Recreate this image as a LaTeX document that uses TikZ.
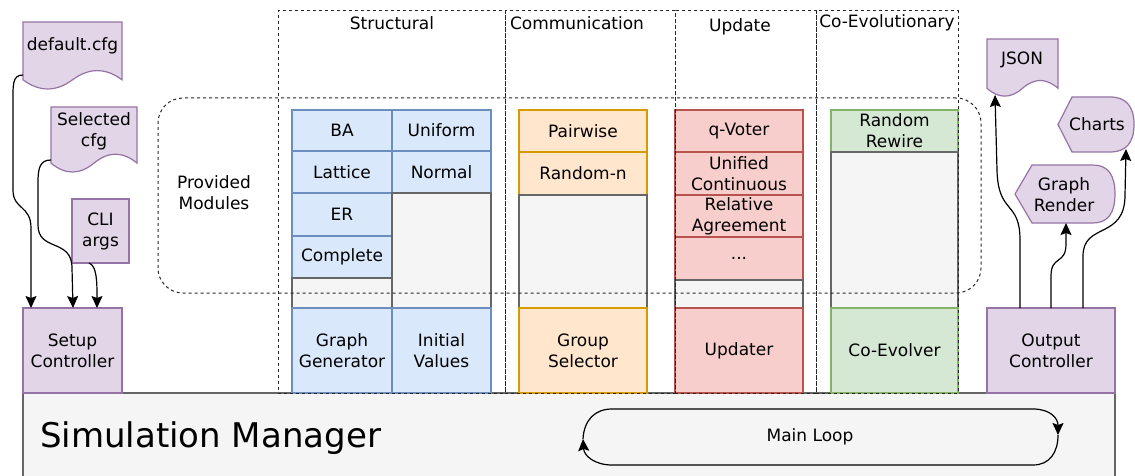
\documentclass[tikz,border=0pt]{standalone}
\usepackage{fontspec}
\setmainfont{DejaVu Sans}
\usetikzlibrary{arrows.meta,calc}
\definecolor{pfill}{HTML}{E1D5E7}\definecolor{pdraw}{HTML}{9673A6}
\definecolor{bfill}{HTML}{DAE8FC}\definecolor{bdraw}{HTML}{6C8EBF}
\definecolor{ofill}{HTML}{FFE6CC}\definecolor{odraw}{HTML}{D79B00}
\definecolor{rfill}{HTML}{F8CECC}\definecolor{rdraw}{HTML}{B85450}
\definecolor{gfill}{HTML}{D5E8D4}\definecolor{gdraw}{HTML}{82B366}
\definecolor{efill}{HTML}{F5F5F5}\definecolor{edraw}{HTML}{666666}
\newcommand\docshape[3]{% anchor, w, h
  \draw[pshape, shift={(#1)}] (0,0) -- (#2,0) -- (#2,{0.85*#3})
    .. controls ({0.8333*#2},{0.67*#3}) and ({0.6667*#2},{0.67*#3}) .. ({0.5*#2},{0.85*#3})
    .. controls ({0.3333*#2},{1.03*#3}) and ({0.1667*#2},{1.03*#3}) .. (0,{0.85*#3}) -- cycle;}
\newcommand\dispshape[5]{% anchor, w, h, dx left, rx right
  \draw[pshape, shift={(#1)}] (0,{#3/2}) -- (#4,0) -- ({#2-#5},0)
    .. controls ({#2-#5/3},0) and (#2,{#3/6}) .. (#2,{#3/2})
    .. controls (#2,{5*#3/6}) and ({#2-#5/3},#3) .. ({#2-#5},#3) -- (#4,#3) -- cycle;}
\begin{document}
\begin{tikzpicture}[x=1pt,y=-1pt,
  every node/.style={font=\fontsize{17}{21}\selectfont, text=black, align=center, inner sep=0pt, outer sep=0pt},
  cell/.style={draw, line width=1.2pt, anchor=north west},
  bcell/.style={cell, fill=bfill, draw=bdraw},
  ocell/.style={cell, fill=ofill, draw=odraw},
  rcell/.style={cell, fill=rfill, draw=rdraw},
  gcell/.style={cell, fill=gfill, draw=gdraw},
  ecell/.style={cell, fill=efill, draw=edraw},
  pcell/.style={cell, fill=pfill, draw=pdraw},
  pshape/.style={fill=pfill, draw=pdraw, line width=1.2pt},
  hidden/.style={anchor=north west},
  frame/.style={draw=black!85, dash pattern=on 3pt off 3pt, line width=1pt, anchor=north west},
  arr/.style={-{Stealth[length=12pt,width=11pt,inset=2pt]}, line width=1.2pt},
]
\useasboundingbox (0,0) rectangle (1135,476);

% Simulation manager
\node[anchor=north west, draw=edraw, fill=efill, line width=1.2pt, minimum width=1092pt, minimum height=100pt] (sim) at (23,393) {};
\node[anchor=base west, font=\fontsize{34}{40}\selectfont] (simt) at (40,447) {Simulation Manager};

% Structural
\node[bcell, minimum width=100pt, minimum height=41pt] (ba) at (292,110) {BA};
\node[bcell, minimum width=100pt, minimum height=42pt] (lat) at (292,151) {Lattice};
\node[bcell, minimum width=100pt, minimum height=43pt] (er) at (292,193) {ER};
\node[bcell, minimum width=100pt, minimum height=42pt] (cmp) at (292,236) {Complete};
\node[ecell, minimum width=100pt, minimum height=30pt] (sg1) at (292,278) {};
\node[bcell, minimum width=100pt, minimum height=85pt] (gg) at (292,308) {Graph\\Generator};
\node[bcell, minimum width=99pt, minimum height=41pt] (uni) at (392,110) {Uniform};
\node[bcell, minimum width=99pt, minimum height=42pt] (nor) at (392,151) {Normal};
\node[ecell, minimum width=99pt, minimum height=115pt] (sg2) at (392,193) {};
\node[bcell, minimum width=99pt, minimum height=85pt] (iv) at (392,308) {Initial\\Values};

% Communication
\node[ocell, minimum width=128pt, minimum height=42pt] (pw) at (519,110) {Pairwise};
\node[ocell, minimum width=128pt, minimum height=43pt] (rn) at (519,152) {Random-n};
\node[ecell, minimum width=128pt, minimum height=113pt] (cg) at (519,195) {};
\node[ocell, minimum width=128pt, minimum height=85pt] (gs) at (519,308) {Group\\Selector};

% Update
\node[rcell, minimum width=128pt, minimum height=42pt] (qv) at (675,110) {q-Voter};
\node[rcell, minimum width=128pt, minimum height=43pt] (uc) at (675,152) {Unified\\Continuous};
\node[rcell, minimum width=128pt, minimum height=42pt] (ra) at (675,195) {Relative\\Agreement};
\node[rcell, minimum width=128pt, minimum height=43pt] (dots) at (675,237) {...};
\node[ecell, minimum width=128pt, minimum height=28pt] (ug) at (675,280) {};
\node[rcell, minimum width=128pt, minimum height=85pt] (upd) at (675,308) {Updater};

% Co-evolutionary
\node[gcell, minimum width=127pt, minimum height=42pt] (rr) at (831,110) {Random\\Rewire};
\node[ecell, minimum width=127pt, minimum height=156pt] (eg) at (831,152) {};
\node[gcell, minimum width=127pt, minimum height=85pt] (ce) at (831,308) {Co-Evolver};

% Controllers
\node[pcell, minimum width=99pt, minimum height=85pt] (setup) at (23,308) {Setup\\Controller};
\node[pcell, minimum width=128pt, minimum height=85pt] (out) at (987,308) {Output\\Controller};
\node[pcell, minimum width=57pt, minimum height=64pt] (cli) at (72,199) {CLI\\args};

% Documents
\node[hidden, minimum width=99pt, minimum height=68pt] (dflt) at (23,22) {};
\docshape{dflt.north west}{99}{68}
\node (dfltt) at (72.5,46) {default.cfg};
\node[hidden, minimum width=86pt, minimum height=66pt] (sel) at (51,107) {};
\docshape{sel.north west}{86}{66}
\node (selt) at (94,131) {Selected\\cfg};
\node[hidden, minimum width=71pt, minimum height=58pt] (json) at (987,39) {};
\docshape{json.north west}{71}{58}
\node (jsont) at (1022,60) {JSON};

% Display shapes
\node[hidden, minimum width=76pt, minimum height=55pt] (charts) at (1058,97) {};
\dispshape{charts.north west}{76}{55}{14}{24}
\node (chartst) at (1097,124) {Charts};
\node[hidden, minimum width=100pt, minimum height=58pt] (grender) at (1015,165) {};
\dispshape{grender.north west}{100}{58}{17}{22}
\node (grendert) at (1064,195) {Graph\\Render};

% Frames
\node[frame, minimum width=227pt, minimum height=382pt] (colS) at (278,11) {};
\node[frame, minimum width=170pt, minimum height=382pt] (colC) at (505,11) {};
\node[frame, minimum width=141pt, minimum height=382pt] (colU) at (675,11) {};
\node[frame, minimum width=142pt, minimum height=382pt] (colE) at (816,11) {};
\node[frame, rounded corners=25pt, minimum width=823pt, minimum height=195pt] (prov) at (158,98) {};
\node (hS) at (392,23) {Structural};
\node (hC) at (577,23) {Communication};
\node (hU) at (740,27) {Update};
\node (hE) at (887,23) {Co-Evolutionary};
\node (provt) at (214,193) {Provided\\Modules};

% Input arrows
\draw[arr] ($(dflt.north west)+(0,53)$) .. controls (12,75) and (13,85) .. (13,105) -- (13,190)
  .. controls (13,210) and (31,205) .. (31,228) -- ($(setup.north west)+(8,0)$);
\draw[arr] ($(sel.north west)+(0,53)$) .. controls (40,160) and (38,168) .. (38,182) -- (38,225)
  .. controls (38,252) and (72,238) .. (72,268) -- ($(setup.north west)+(50,0)$);
\draw[arr] ($(cli.south west)+(17,0)$) .. controls (97,266) and (97,282) .. ($(setup.north west)+(74,0)$);

% Output arrows
\draw[arr] ($(out.north west)+(33,0)$) -- (1020,240) .. controls (1020,200) and (998,215) .. (997,170) -- ($(json.south west)+(8,-2)$);
\draw[arr] ($(out.north west)+(64,0)$) -- (1051,276) .. controls (1051,255) and (1066,265) .. (1066,244) -- ($(grender.south west)+(51,0)$);
\draw[arr] ($(out.north west)+(96,0)$) -- (1083,256) .. controls (1083,222) and (1125,240) .. (1125,195) -- ($(charts.south east)+(-8,-3)$);

% Main loop
\node (ml) at (810,437) {Main Loop};
\coordinate (mll) at (583,439);
\coordinate (mlr) at (1058,435);
\draw[arr] (mll) .. controls (584,420) and (595,409) .. (612,409) -- (1033,409) .. controls (1050,409) and (1058,418) .. (mlr);
\draw[arr] (mlr) .. controls (1058,452) and (1050,465) .. (1033,465) -- (612,465) .. controls (595,465) and (584,456) .. (mll);
\end{tikzpicture}
\end{document}
